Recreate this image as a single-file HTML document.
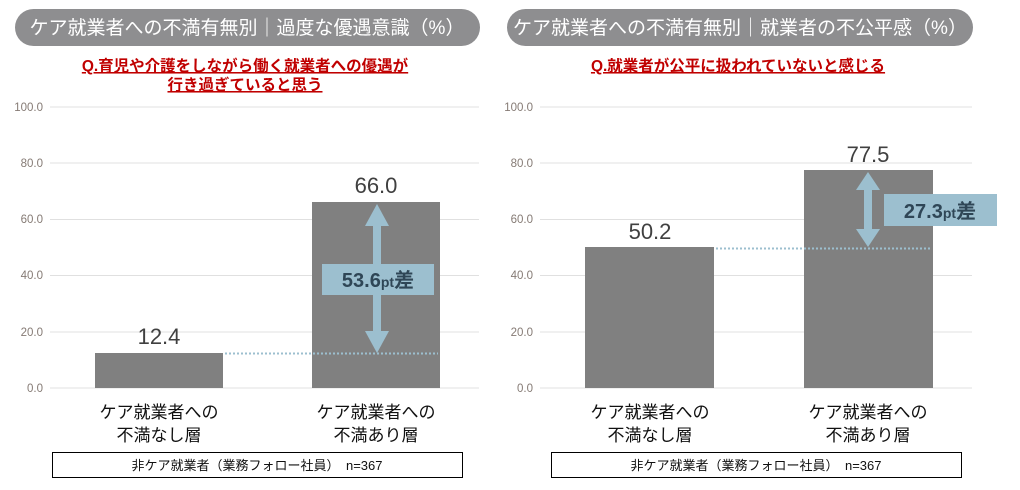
<!DOCTYPE html>
<html><head><meta charset="utf-8"><style>
body{margin:0;background:#fff;width:1020px;height:490px;overflow:hidden}
svg{display:block}
text{font-family:"Liberation Sans","Noto Sans CJK JP",sans-serif}
.t{fill:#fff;font-size:19px}
.q{fill:#c00000;font-size:15.5px;font-weight:bold;text-decoration:underline}
.tk{fill:#857a74;font-size:11.5px;text-anchor:end}
.v{fill:#404040;font-size:22px;text-anchor:middle}
.c{fill:#111;font-size:17px;text-anchor:middle}
.d{fill:#2f4656;font-size:20px;font-weight:bold;text-anchor:middle}
.n{fill:#111;font-size:13px;text-anchor:middle}
</style></head><body>
<svg width="1020" height="490" viewBox="0 0 1020 490">
<!-- LEFT -->
<rect x="15" y="9" width="465" height="37" rx="18.5" fill="#8e8e90"/>
<text class="t" x="247" y="34" text-anchor="middle">ケア就業者への不満有無別｜過度な優遇意識（%）</text>
<text class="q" x="245" y="71" text-anchor="middle">Q.育児や介護をしながら働く就業者への優遇が</text>
<text class="q" x="245" y="90" text-anchor="middle">行き過ぎていると思う</text>
<g stroke="#e0e0e0" stroke-width="1">
<line x1="50" y1="107" x2="479" y2="107"/><line x1="50" y1="163" x2="479" y2="163"/><line x1="50" y1="219.5" x2="479" y2="219.5"/><line x1="50" y1="275.5" x2="479" y2="275.5"/><line x1="50" y1="332" x2="479" y2="332"/><line x1="50" y1="388" x2="479" y2="388"/>
</g>
<text class="tk" x="43" y="111">100.0</text><text class="tk" x="43" y="167">80.0</text><text class="tk" x="43" y="223">60.0</text><text class="tk" x="43" y="279">40.0</text><text class="tk" x="43" y="336">20.0</text><text class="tk" x="43" y="392">0.0</text>
<rect x="95" y="353" width="128" height="35" fill="#808080"/>
<rect x="312" y="202" width="128" height="186" fill="#808080"/>
<line x1="225" y1="353.5" x2="438" y2="353.5" stroke="#9cbfcf" stroke-width="2" stroke-dasharray="2,2"/>
<text class="v" x="159" y="344">12.4</text>
<text class="v" x="376" y="193">66.0</text>
<rect x="373" y="222" width="8" height="112" fill="#9cbfcf"/>
<polygon points="377,204 365,226 389,226" fill="#9cbfcf"/>
<polygon points="377,353 365,331 389,331" fill="#9cbfcf"/>
<rect x="322" y="264" width="112" height="31" fill="#9cbfcf"/>
<text class="d" x="378" y="287">53.6<tspan font-size="14">pt</tspan>差</text>
<text class="c" x="159" y="418">ケア就業者への</text><text class="c" x="159" y="441">不満なし層</text>
<text class="c" x="376" y="418">ケア就業者への</text><text class="c" x="376" y="441">不満あり層</text>
<rect x="52.5" y="452.5" width="410" height="25" fill="none" stroke="#000" stroke-width="1"/>
<text class="n" x="257" y="470">非ケア就業者（業務フォロー社員）　n=367</text>

<!-- RIGHT -->
<rect x="507" y="9" width="466" height="37" rx="18.5" fill="#8e8e90"/>
<text class="t" x="740" y="34" text-anchor="middle">ケア就業者への不満有無別｜就業者の不公平感（%）</text>
<text class="q" x="738" y="71" text-anchor="middle">Q.就業者が公平に扱われていないと感じる</text>
<g stroke="#e0e0e0" stroke-width="1">
<line x1="540" y1="107" x2="972" y2="107"/><line x1="540" y1="163" x2="972" y2="163"/><line x1="540" y1="219.5" x2="972" y2="219.5"/><line x1="540" y1="275.5" x2="972" y2="275.5"/><line x1="540" y1="332" x2="972" y2="332"/><line x1="540" y1="388" x2="972" y2="388"/>
</g>
<text class="tk" x="533" y="111">100.0</text><text class="tk" x="533" y="167">80.0</text><text class="tk" x="533" y="223">60.0</text><text class="tk" x="533" y="279">40.0</text><text class="tk" x="533" y="336">20.0</text><text class="tk" x="533" y="392">0.0</text>
<rect x="585" y="247" width="129" height="141" fill="#808080"/>
<rect x="804" y="170" width="129" height="218" fill="#808080"/>
<line x1="716" y1="248.5" x2="931" y2="248.5" stroke="#9cbfcf" stroke-width="2" stroke-dasharray="2,2"/>
<text class="v" x="650" y="239">50.2</text>
<text class="v" x="868" y="162">77.5</text>
<rect x="864" y="188" width="8" height="42" fill="#9cbfcf"/>
<polygon points="868,172 856,190 880,190" fill="#9cbfcf"/>
<polygon points="868,247 856,229 880,229" fill="#9cbfcf"/>
<rect x="884" y="194" width="113" height="32" fill="#9cbfcf"/>
<text class="d" x="940" y="218">27.3<tspan font-size="14">pt</tspan>差</text>
<text class="c" x="650" y="418">ケア就業者への</text><text class="c" x="650" y="441">不満なし層</text>
<text class="c" x="868" y="418">ケア就業者への</text><text class="c" x="868" y="441">不満あり層</text>
<rect x="551.5" y="452.5" width="410" height="25" fill="none" stroke="#000" stroke-width="1"/>
<text class="n" x="756" y="470">非ケア就業者（業務フォロー社員）　n=367</text>
</svg>
</body></html>
